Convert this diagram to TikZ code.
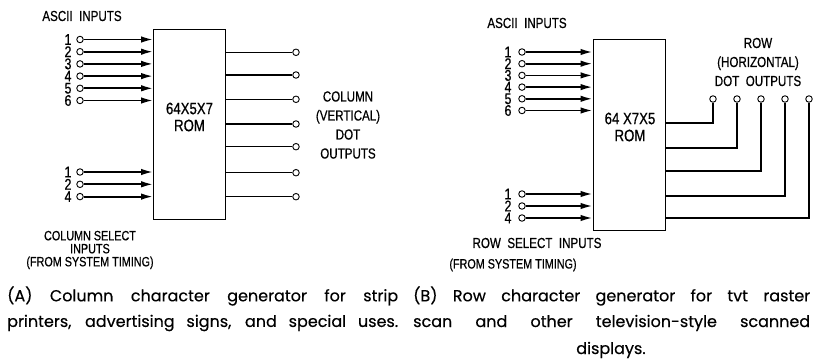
\documentclass[tikz,border=0pt]{standalone}
\usepackage{fontspec}
\setmainfont{Poppins}[FakeBold=0.4]
\newfontfamily\letterfont[FakeStretch=0.8,FakeBold=0.6]{Liberation Sans}
\usepackage{tikz}
\usetikzlibrary{positioning,arrows.meta}

\begin{document}
\begin{tikzpicture}[
x=1pt, y=-1pt,
pin/.style={draw, circle, fill=white, line width=0.9pt, minimum size=6.5pt, inner sep=0pt},
rom/.style={draw, line width=0.9pt, minimum width=72pt, inner sep=0pt},
lbl/.style={font=\letterfont\fontsize{14.5}{14}\selectfont, inner sep=0pt, align=center},
digit/.style={font=\letterfont\fontsize{15.5}{15}\selectfont, inner sep=0pt},
romtext/.style={font=\letterfont\fontsize{16.5}{17}\selectfont, inner sep=0pt, align=center},
capline/.style={font=\fontsize{16}{16}\selectfont, inner sep=0pt, anchor=west},
inarrow/.style={-{Latex[length=12pt,width=6.5pt]}, line width=1.8pt},
wire/.style={line width=1.5pt}
]
\useasboundingbox (0,0) rectangle (815,359);

% (A) column character generator
\node[rom, minimum height=190pt] (romA) at (189.5,124) {};
\node[romtext] (romAtxt) at (189.5,117) {64X5X7\\ROM};
\node[lbl] (asciiA) at (82,16) {ASCII\ \ INPUTS};
\foreach \n/\y in {1/39.5,2/51.7,3/63.9,4/76.1,5/88.3,6/100.5} {
  \node[pin] (ia\n) at (80,\y) {};
  \node[digit] (da\n) at (68,\y) {\n};
  \draw[inarrow] (ia\n) -- (romA.west |- ia\n);
}
\foreach \n/\y in {1/172,2/184.3,4/196.6} {
  \node[pin] (sa\n) at (80,\y) {};
  \node[digit] (dsa\n) at (68,\y) {\n};
  \draw[inarrow] (sa\n) -- (romA.west |- sa\n);
}
\foreach \n/\y in {1/52.3,2/75,3/99.3,4/124,5/146.7,6/172.7,7/196.7} {
  \node[pin] (oa\n) at (296,\y) {};
  \draw[wire] (romA.east |- oa\n) -- (oa\n);
}
\node[lbl] (outA) at (348,125) {COLUMN\\[5pt](VERTICAL)\\[5pt]DOT\\[5pt]OUTPUTS};
\node[lbl, font=\letterfont\fontsize{13.5}{13}\selectfont] (selA) at (90,250) {COLUMN SELECT\\INPUTS\\(FROM SYSTEM TIMING)};

% (B) row character generator
\node[rom, minimum height=191pt] (romB) at (629,134.5) {};
\node[romtext] (romBtxt) at (630,127) {64 X7X5\\ROM};
\node[lbl] (asciiB) at (527,23) {ASCII\ \ INPUTS};
\foreach \n/\y in {1/52,2/63.7,3/75.4,4/87.1,5/98.8,6/110.5} {
  \node[pin] (ib\n) at (522,\y) {};
  \node[digit] (db\n) at (508,\y) {\n};
  \draw[inarrow] (ib\n) -- (romB.west |- ib\n);
}
\foreach \n/\y in {1/194,2/206,4/218} {
  \node[pin] (sb\n) at (522,\y) {};
  \node[digit] (dsb\n) at (508,\y) {\n};
  \draw[inarrow] (sb\n) -- (romB.west |- sb\n);
}
\foreach \n/\x/\y in {1/713/123,2/737/148,3/761/171,4/785/196,5/809/218} {
  \node[pin] (ob\n) at (\x,99) {};
  \coordinate (tb\n) at (665,\y);
  \draw[wire] (tb\n) -| (ob\n);
}
\node[lbl] (outB) at (758,62) {ROW\\[5pt](HORIZONTAL)\\[5pt]DOT\ \ OUTPUTS};
\node[lbl] (selB) at (537,243) {ROW\ \ SELECT\ \ INPUTS};
\node[lbl, font=\letterfont\fontsize{13.5}{13}\selectfont] (timB) at (513,265) {(FROM SYSTEM TIMING)};

% captions
\node[capline] (capA1) at (7,296) {\makebox[391pt][s]{(A) Column character generator for strip}};
\node[capline] (capA2) at (7,323) {\makebox[391pt][s]{printers, advertising signs, and special uses.}};
\node[capline] (capB1) at (413,296) {\makebox[397pt][s]{(B) Row character generator for tvt raster}};
\node[capline] (capB2) at (413,323) {\makebox[397pt][s]{scan and other television-style scanned}};
\node[font=\fontsize{16}{16}\selectfont, inner sep=0pt] (capB3) at (611,350) {displays.};
\end{tikzpicture}
\end{document}
